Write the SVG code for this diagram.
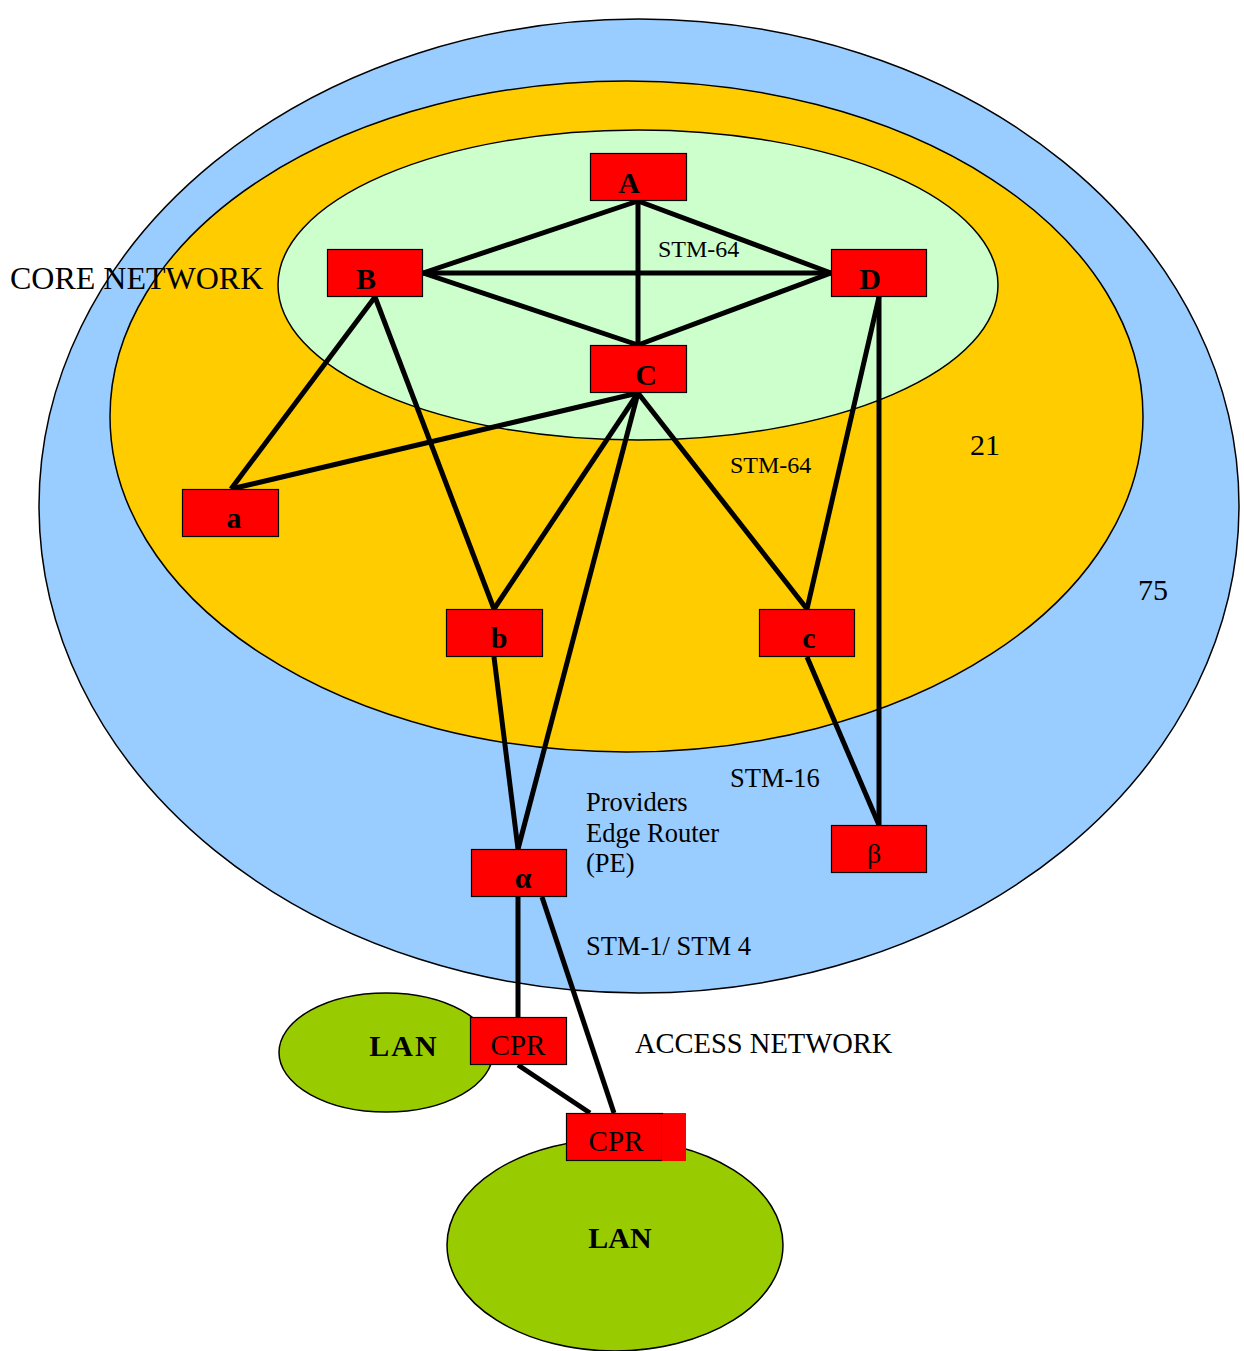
<svg xmlns="http://www.w3.org/2000/svg" width="1244" height="1351" viewBox="0 0 1244 1351">
<style>
.zone{stroke:#000;stroke-width:1.5}
.node{fill:#FF0000;stroke:#000;stroke-width:1.2}
.lbl{font-family:"Liberation Serif","Times New Roman",serif;fill:#000}
.nl{font-family:"Liberation Serif","Times New Roman",serif;font-weight:bold;font-size:30px;text-anchor:middle;fill:#000}
.link{stroke:#000;stroke-width:5;fill:none;stroke-linecap:butt}
</style>
<rect width="1244" height="1351" fill="#fff"/>
<g id="zones">
<ellipse id="outer" class="zone" cx="639" cy="506" rx="600" ry="487" fill="#99CCFF"/>
<ellipse id="middle" class="zone" cx="626.5" cy="416.5" rx="516.5" ry="335.5" fill="#FFCC00"/>
<ellipse id="core" class="zone" cx="638" cy="285" rx="360" ry="155" fill="#CCFFCC"/>
<ellipse id="lan1" class="zone" cx="386" cy="1052.5" rx="107" ry="59.5" fill="#99CC00"/>
<ellipse id="lan2" class="zone" cx="615" cy="1245" rx="168" ry="106" fill="#99CC00"/>
</g>
<g id="connectors">
<line class="link" x1="638" y1="201" x2="423" y2="273"/>
<line class="link" x1="638" y1="201" x2="831" y2="273"/>
<line class="link" x1="638" y1="201" x2="638" y2="345"/>
<line class="link" x1="423" y1="273" x2="831" y2="273"/>
<line class="link" x1="423" y1="273" x2="638" y2="345"/>
<line class="link" x1="831" y1="273" x2="638" y2="345"/>
<line class="link" x1="375" y1="297" x2="231" y2="489"/>
<line class="link" x1="638" y1="393" x2="231" y2="489"/>
<line class="link" x1="375" y1="297" x2="494" y2="609"/>
<line class="link" x1="638" y1="393" x2="494" y2="609"/>
<line class="link" x1="638" y1="393" x2="518" y2="849"/>
<line class="link" x1="638" y1="393" x2="807" y2="609"/>
<line class="link" x1="879" y1="297" x2="807" y2="609"/>
<line class="link" x1="879" y1="297" x2="879" y2="825"/>
<line class="link" x1="494" y1="657" x2="518" y2="849"/>
<line class="link" x1="807" y1="657" x2="879" y2="825"/>
<line class="link" x1="518" y1="897" x2="518" y2="1017"/>
<line class="link" x1="542" y1="897" x2="614" y2="1113"/>
<line class="link" x1="518" y1="1065" x2="590" y2="1113"/>
</g>
<g id="node-A"><rect class="node" x="590.5" y="153.5" width="96" height="47"/><text class="nl" x="629" y="193">A</text></g>
<g id="node-B"><rect class="node" x="327.5" y="249.5" width="95" height="47"/><text class="nl" x="366" y="289">B</text></g>
<g id="node-D"><rect class="node" x="831.5" y="249.5" width="95" height="47"/><text class="nl" x="870" y="289">D</text></g>
<g id="node-C"><rect class="node" x="590.5" y="345.5" width="96" height="47"/><text class="nl" x="646" y="385">C</text></g>
<g id="node-a"><rect class="node" x="182.5" y="489.5" width="96" height="47"/><text class="nl" x="234" y="528">a</text></g>
<g id="node-b"><rect class="node" x="446.5" y="609.5" width="96" height="47"/><text class="nl" x="499" y="648">b</text></g>
<g id="node-c"><rect class="node" x="759.5" y="609.5" width="95" height="47"/><text class="nl" x="809" y="648">c</text></g>
<g id="node-beta"><rect class="node" x="831.5" y="825.5" width="95" height="47"/><text class="lbl" x="874" y="863" font-size="28" text-anchor="middle">β</text></g>
<g id="node-alpha"><rect class="node" x="471.5" y="849.5" width="95" height="47"/><text class="nl" x="523" y="888">α</text></g>
<g id="node-cpr1"><rect class="node" x="470.5" y="1017.5" width="96" height="47"/><text class="lbl" x="518" y="1055" font-size="29" text-anchor="middle">CPR</text></g>
<g id="node-cpr2"><rect x="566" y="1113" width="120" height="48" fill="#FF0000"/><rect class="node" x="566.5" y="1113.5" width="96" height="47"/><rect x="662" y="1114" width="24" height="47" fill="#FF0000"/><text class="lbl" x="616" y="1151" font-size="29" text-anchor="middle">CPR</text></g>
<g id="labels">
<text class="lbl" x="10" y="289" font-size="32">CORE NETWORK</text>
<text class="lbl" x="658" y="257" font-size="24">STM-64</text>
<text class="lbl" x="730" y="473" font-size="24">STM-64</text>
<text class="lbl" x="970" y="455" font-size="30">21</text>
<text class="lbl" x="1138" y="600" font-size="30">75</text>
<text class="lbl" x="730" y="787" font-size="26.5">STM-16</text>
<text class="lbl" x="586" y="811" font-size="26.5">Providers</text>
<text class="lbl" x="586" y="842" font-size="26.5">Edge Router</text>
<text class="lbl" x="586" y="872" font-size="26.5">(PE)</text>
<text class="lbl" x="586" y="955" font-size="26.5">STM-1/ STM 4</text>
<text class="lbl" x="635" y="1053" font-size="28.5">ACCESS NETWORK</text>
<text class="nl" x="404" y="1056" letter-spacing="2">LAN</text>
<text class="nl" x="620" y="1248">LAN</text>
</g>
</svg>
